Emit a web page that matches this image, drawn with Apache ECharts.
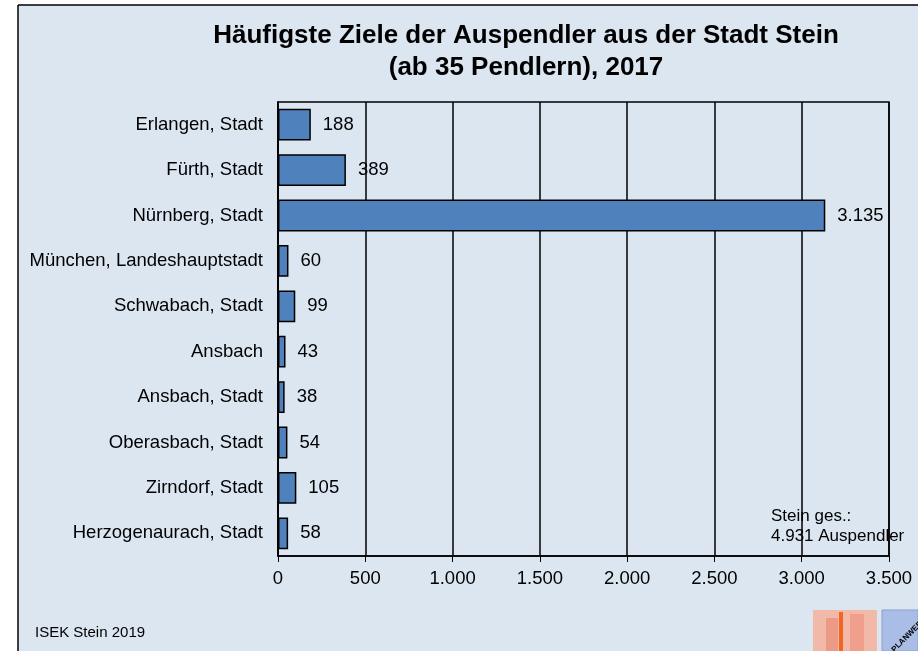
<!DOCTYPE html>
<html>
<head>
<meta charset="utf-8">
<script src="https://cdn.jsdelivr.net/npm/echarts@6/dist/echarts.min.js"></script>
<style>
  html, body { margin: 0; padding: 0; background: #ffffff; }
  #chart { width: 918px; height: 651px; }
</style>
</head>
<body>
<div id="chart"></div>
<script>
// Ziele der Auspendler (ab 35 Pendlern), 2017
var categories = [
  'Erlangen, Stadt', 'Fürth, Stadt', 'Nürnberg, Stadt', 'München, Landeshauptstadt',
  'Schwabach, Stadt', 'Ansbach', 'Ansbach, Stadt', 'Oberasbach, Stadt',
  'Zirndorf, Stadt', 'Herzogenaurach, Stadt'
];
var values = [188, 389, 3135, 60, 99, 43, 38, 54, 105, 58];
var axisMin = 0, axisMax = 3500, axisStep = 500;

// deutsches Zahlenformat: 3135 -> 3.135
function fmt(v) {
  return String(v).replace(/\B(?=(\d{3})+(?!\d))/g, '.');
}

var chart = echarts.init(document.getElementById('chart'));
var option = {
  backgroundColor: '#ffffff',
  animation: false,
  title: {
    text: 'Häufigste Ziele der Auspendler aus der Stadt Stein\n(ab 35 Pendlern), 2017',
    left: 521, top: 15, textAlign: 'center',
    textStyle: { fontFamily: 'Liberation Sans', fontSize: 26, fontWeight: 'bold', color: '#000', lineHeight: 32 }
  },
  graphic: [
    // Hintergrund mit Rahmen oben / links
    { type: 'rect', z: -10, silent: true, shape: { x: 18, y: 5, width: 900, height: 646 },
      style: { fill: '#dce6f1', stroke: null } },
    { type: 'line', z: -9, shape: { x1: 18, y1: 5, x2: 918, y2: 5 }, style: { stroke: '#000', lineWidth: 1.5 } },
    { type: 'line', z: -9, shape: { x1: 18, y1: 5, x2: 18, y2: 651 }, style: { stroke: '#000', lineWidth: 1.5 } },
    { type: 'text', left: 35, top: 625, style: { text: 'ISEK Stein 2019', font: '15px Liberation Sans', fill: '#000' } },
    { type: 'text', z: 0, left: 771, top: 506,
      style: { text: 'Stein ges.:\n4.931 Auspendler', font: '17px Liberation Sans', fill: '#000', lineHeight: 20 } },
    // Logo unten rechts (vereinfacht)
    { type: 'rect', shape: { x: 813, y: 610, width: 64, height: 41 }, style: { fill: '#f2b8a8' } },
    { type: 'rect', shape: { x: 826, y: 618, width: 12, height: 33 }, style: { fill: '#ec9a85' } },
    { type: 'rect', shape: { x: 839, y: 612, width: 4, height: 39 }, style: { fill: '#f26522' } },
    { type: 'rect', shape: { x: 850, y: 614, width: 14, height: 37 }, style: { fill: '#ef9f8c' } },
    { type: 'rect', shape: { x: 882, y: 610, width: 36, height: 41 }, style: { fill: '#a9bde6', stroke: '#8aa0d0' } },
    { type: 'text', x: 890, y: 648, rotation: Math.PI / 4,
      style: { text: 'PLANWERK', font: 'bold 8px Liberation Sans', fill: '#000' } }
  ],
  grid: {
    left: 278, right: 29, top: 102, bottom: 95,
    show: true, borderColor: '#000', borderWidth: 1.5, backgroundColor: 'transparent'
  },
  xAxis: {
    type: 'value', min: axisMin, max: axisMax, interval: axisStep,
    axisLine: { show: true, lineStyle: { color: '#000', width: 1.5 } },
    axisTick: { show: true, length: 6, lineStyle: { color: '#000' } },
    axisLabel: { fontFamily: 'Liberation Sans', fontSize: 18.5, color: '#000', margin: 13, formatter: fmt },
    splitLine: { show: true, lineStyle: { color: '#000', width: 1.5 } }
  },
  yAxis: {
    type: 'category', data: categories, inverse: true,
    axisLine: { show: true, lineStyle: { color: '#000', width: 1.5 } },
    axisTick: { show: false },
    axisLabel: { fontFamily: 'Liberation Sans', fontSize: 18.5, color: '#000', margin: 15 }
  },
  series: [{
    type: 'bar',
    data: values,
    barCategoryGap: '30%',
    itemStyle: { color: '#4f81bd', borderColor: '#000', borderWidth: 1.5 },
    label: {
      show: true, position: 'right', distance: 12,
      fontFamily: 'Liberation Sans', fontSize: 18.5, color: '#000',
      formatter: function (p) { return fmt(p.value); }
    }
  }]
};
chart.setOption(option);
</script>
</body>
</html>
